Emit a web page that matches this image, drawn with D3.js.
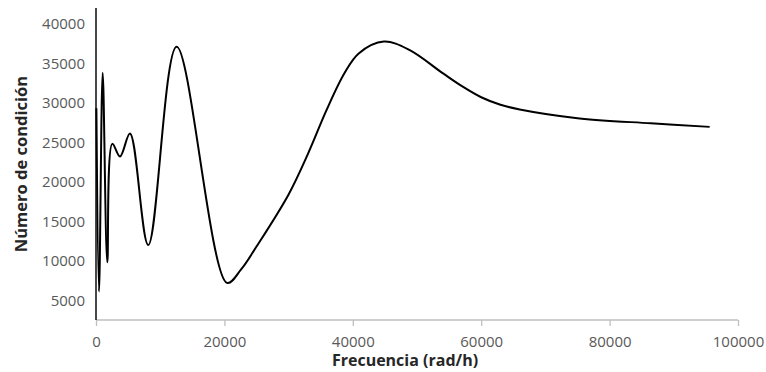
<!DOCTYPE html>
<html>
<head>
<meta charset="utf-8">
<script src="https://cdn.jsdelivr.net/npm/d3@7"></script>
<style>
  html, body { margin: 0; padding: 0; background: #fff; }
  svg { display: block; }
  text { font-family: "Open Sans", "Liberation Sans", sans-serif; }
</style>
</head>
<body>
<svg id="chart" width="766" height="372"></svg>
<script>
// Frequency (rad/h) and condition number samples along the response curve
const frecuencia = [60, 470, 1040, 1760, 2540, 3740, 5290, 8140, 12560, 20400,
  22600, 25000, 30000, 33050, 35870, 38670, 40920, 44840, 48800, 54000,
  57000, 60000, 63000, 66000, 75000, 86410, 95590];
const numeroCondicion = [29300, 6100, 33800, 9800, 24800, 23200, 26100, 12000, 37100, 7200,
  8900, 11800, 18400, 23600, 29000, 33700, 36250, 37750, 36700, 33750,
  32100, 30700, 29750, 29150, 28050, 27400, 26950];

const xTicks = [0, 20000, 40000, 60000, 80000, 100000];
const yTicks = [5000, 10000, 15000, 20000, 25000, 30000, 35000, 40000];

const xTitle = "Frecuencia (rad/h)";
const yTitle = "Número de condición";

const svg = d3.select("#chart");
const plot = { left: 96, right: 738, top: 8, bottom: 320 };

const x = d3.scaleLinear().domain([0, 100000]).range([plot.left, plot.right]);
const y = d3.scaleLinear().domain([2500, 42000]).range([plot.bottom, plot.top]);

// Horizontal axis: light grey line with tick marks below it
const xAxis = svg.append("g")
  .attr("transform", `translate(0,${plot.bottom})`)
  .call(d3.axisBottom(x).tickValues(xTicks).tickSize(6).tickPadding(10)
    .tickFormat(d3.format("d")));
xAxis.select(".domain").attr("stroke", "#bfbfbf").attr("stroke-width", 1.3)
  .attr("d", `M${plot.left},0H${plot.right}`);
xAxis.selectAll(".tick line").attr("stroke", "#bfbfbf").attr("stroke-width", 1.3);
xAxis.selectAll(".tick text")
  .attr("fill", "#595959").attr("font-size", "15px");

// Vertical axis: dark line, labels only
const yAxis = svg.append("g")
  .attr("transform", `translate(${plot.left},0)`)
  .call(d3.axisLeft(y).tickValues(yTicks).tickSize(0).tickPadding(11)
    .tickFormat(d3.format("d")));
yAxis.select(".domain").attr("stroke", "#1a1a1a").attr("stroke-width", 1.6)
  .attr("d", `M0,${plot.top}V${plot.bottom}`);
yAxis.selectAll(".tick text")
  .attr("fill", "#595959").attr("font-size", "15px");

// Axis titles
svg.append("text")
  .attr("x", 405).attr("y", 366)
  .attr("text-anchor", "middle")
  .attr("font-size", "16px").attr("font-weight", "bold").attr("fill", "#262626")
  .text(xTitle);

svg.append("text")
  .attr("transform", "translate(27,164) rotate(-90)")
  .attr("text-anchor", "middle")
  .attr("font-size", "16.5px").attr("font-weight", "bold").attr("fill", "#262626")
  .text(yTitle);

// Smoothed response curve
const pts = frecuencia.map((f, i) => [f, numeroCondicion[i]]);
const line = d3.line()
  .x(d => x(d[0]))
  .y(d => y(d[1]))
  .curve(d3.curveCatmullRom.alpha(0.5));

svg.append("path")
  .datum(pts)
  .attr("fill", "none")
  .attr("stroke", "#000")
  .attr("stroke-width", 2)
  .attr("stroke-linejoin", "round")
  .attr("d", line);
</script>
</body>
</html>
